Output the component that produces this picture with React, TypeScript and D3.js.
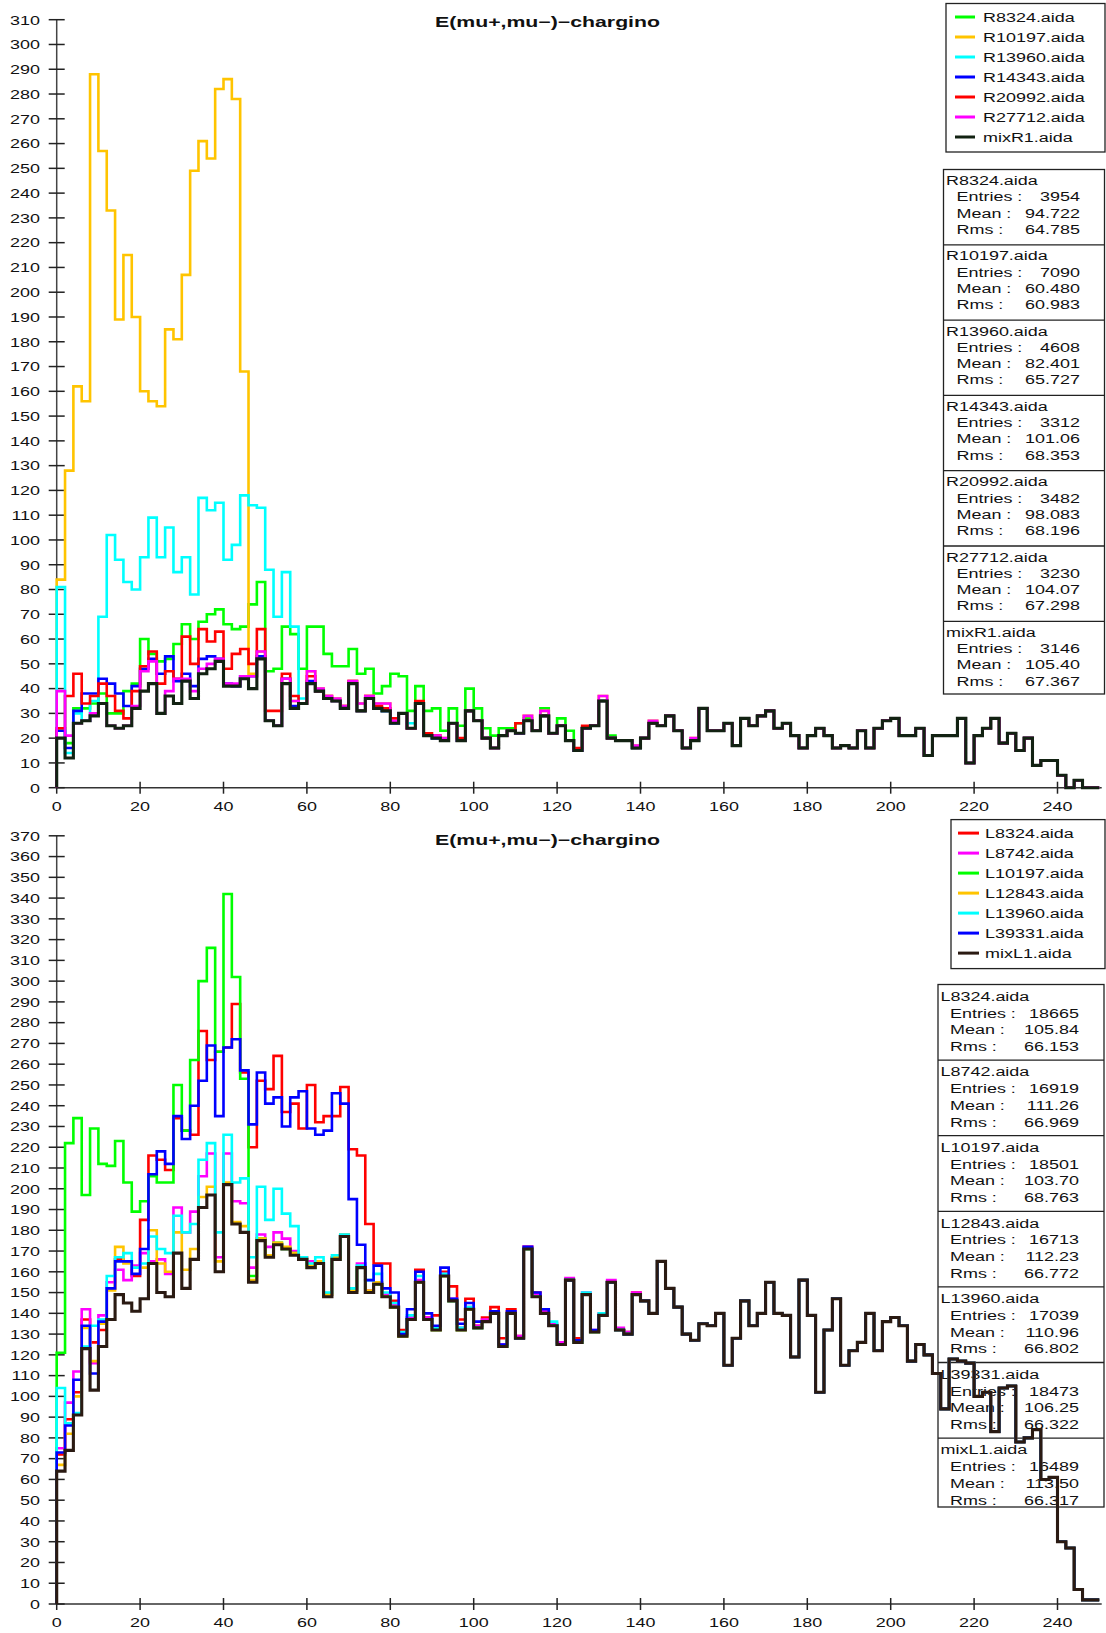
import React from 'react';
import * as d3 from 'd3';

// ---------------- DATA ----------------
const BIN_WIDTH = 2;
const X_TICKS = [0, 20, 40, 60, 80, 100, 120, 140, 160, 180, 200, 220, 240];
const TOP_Y_TICKS = d3.range(0, 311, 10);
const BOTTOM_Y_TICKS = d3.range(0, 371, 10);
const TITLE = 'E(mu+,mu\u2212)\u2212chargino';

// Top chart series
const R8324 = [
  24, 18, 32, 32, 34, 38, 30, 30, 39, 42,
  60, 54, 51, 52, 58, 66, 60, 67, 70, 72,
  66, 64, 65, 74, 83, 47, 48, 65, 62, 48,
  65, 65, 54, 49, 49, 56, 46, 48, 38, 41,
  46, 45, 31, 41, 31, 32, 23, 32, 25, 40,
  32, 24, 21, 24, 24, 26, 28, 23, 32, 22,
  28, 23, 15, 24, 25, 35, 21, 19, 19, 16,
  20, 26, 25, 29, 23, 16, 19, 32, 23, 23,
  26, 17, 28, 25, 29, 31, 24, 26, 21, 16,
  21, 24, 21, 16, 17, 16, 23, 16, 24, 27,
  28, 21, 21, 24, 13, 21, 21, 21, 28, 10,
  21, 24, 28, 18, 22, 15, 20, 9, 11, 11,
  5, 0, 3, 0, 0,
];
const R10197 = [
  84, 128, 162, 156, 288, 257, 233, 189, 215, 190,
  160, 156, 154, 185, 181, 207, 249, 261, 254, 282,
  286, 278, 168, 46, 55, 27, 25, 44, 35, 34,
  47, 40, 37, 36, 33, 43, 34, 37, 34, 34,
  27, 30, 24, 34, 21, 21, 20, 26, 19, 31,
  27, 20, 16, 21, 23, 22, 29, 23, 31, 22,
  25, 19, 15, 24, 25, 37, 20, 19, 19, 17,
  20, 27, 25, 29, 23, 16, 20, 32, 23, 23,
  26, 17, 28, 25, 29, 31, 24, 26, 21, 16,
  21, 24, 21, 16, 17, 16, 23, 16, 24, 27,
  28, 21, 21, 24, 13, 21, 21, 21, 28, 10,
  21, 24, 28, 18, 22, 15, 20, 9, 11, 11,
  5, 0, 3, 0, 0,
];
const R13960 = [
  81, 14, 30, 27, 35, 69, 102, 92, 83, 80,
  93, 109, 93, 105, 87, 93, 78, 117, 112, 115,
  92, 98, 118, 114, 113, 88, 69, 87, 65, 36,
  42, 39, 36, 35, 32, 42, 31, 36, 32, 31,
  26, 30, 26, 34, 21, 20, 19, 26, 19, 31,
  27, 20, 16, 21, 23, 22, 27, 23, 29, 22,
  25, 19, 15, 24, 25, 35, 20, 19, 19, 16,
  20, 26, 25, 29, 23, 16, 19, 32, 23, 23,
  26, 17, 28, 25, 29, 31, 24, 26, 21, 16,
  21, 24, 21, 16, 17, 16, 23, 16, 24, 27,
  28, 21, 21, 24, 13, 21, 21, 21, 28, 10,
  21, 24, 28, 18, 22, 15, 20, 9, 11, 11,
  5, 0, 3, 0, 0,
];
const R14343 = [
  23, 16, 31, 38, 38, 44, 42, 38, 33, 41,
  48, 52, 46, 53, 43, 46, 41, 52, 53, 52,
  42, 41, 45, 45, 53, 27, 25, 44, 33, 34,
  43, 39, 36, 35, 32, 42, 31, 36, 32, 31,
  26, 30, 24, 34, 21, 20, 19, 26, 19, 31,
  27, 20, 16, 21, 23, 22, 27, 23, 29, 22,
  25, 19, 15, 24, 25, 35, 20, 19, 19, 16,
  20, 26, 25, 29, 23, 16, 19, 32, 23, 23,
  26, 17, 28, 25, 29, 31, 24, 26, 21, 16,
  21, 24, 21, 16, 17, 16, 23, 16, 24, 27,
  28, 21, 21, 24, 13, 21, 21, 21, 28, 10,
  21, 24, 28, 18, 22, 15, 20, 9, 11, 11,
  5, 0, 3, 0, 0,
];
const R20992 = [
  24, 37, 46, 34, 37, 42, 37, 31, 28, 39,
  49, 55, 42, 47, 44, 61, 50, 64, 59, 63,
  48, 54, 56, 50, 64, 31, 31, 46, 37, 34,
  45, 39, 37, 35, 33, 43, 31, 37, 33, 32,
  28, 30, 24, 35, 22, 21, 19, 26, 20, 31,
  27, 20, 16, 21, 23, 26, 27, 23, 29, 22,
  25, 19, 16, 25, 25, 35, 20, 19, 19, 16,
  20, 26, 25, 29, 23, 16, 19, 32, 23, 23,
  26, 17, 28, 25, 29, 31, 24, 26, 21, 16,
  21, 24, 21, 16, 17, 16, 23, 16, 24, 27,
  28, 21, 21, 24, 13, 21, 21, 21, 28, 10,
  21, 24, 28, 18, 22, 15, 20, 9, 11, 11,
  5, 0, 3, 0, 0,
];
const R27712 = [
  39, 21, 26, 27, 30, 34, 25, 24, 25, 33,
  47, 51, 30, 39, 44, 44, 39, 48, 50, 52,
  42, 42, 45, 45, 55, 27, 25, 44, 35, 34,
  47, 40, 37, 36, 33, 43, 34, 37, 34, 34,
  27, 30, 24, 34, 21, 21, 20, 26, 19, 31,
  27, 20, 16, 21, 23, 22, 29, 23, 31, 22,
  25, 19, 15, 24, 25, 37, 20, 19, 19, 17,
  20, 27, 25, 29, 23, 16, 20, 32, 23, 23,
  26, 17, 28, 25, 29, 31, 24, 26, 21, 16,
  21, 24, 21, 16, 17, 16, 23, 16, 24, 27,
  28, 21, 21, 24, 13, 21, 21, 21, 28, 10,
  21, 24, 28, 18, 22, 15, 20, 9, 11, 11,
  5, 0, 3, 0, 0,
];
const MIX_R1 = [
  20, 12, 26, 27, 29, 34, 25, 24, 25, 32,
  39, 42, 30, 37, 34, 43, 36, 46, 48, 51,
  41, 41, 44, 40, 52, 27, 25, 42, 32, 34,
  42, 39, 36, 35, 32, 42, 31, 36, 32, 31,
  26, 30, 24, 34, 21, 20, 19, 26, 19, 31,
  27, 20, 16, 21, 23, 22, 27, 23, 29, 22,
  25, 19, 15, 24, 25, 35, 20, 19, 19, 16,
  20, 26, 25, 29, 23, 16, 19, 32, 23, 23,
  26, 17, 28, 25, 29, 31, 24, 26, 21, 16,
  21, 24, 21, 16, 17, 16, 23, 16, 24, 27,
  28, 21, 21, 24, 13, 21, 21, 21, 28, 10,
  21, 24, 28, 18, 22, 15, 20, 9, 11, 11,
  5, 0, 3, 0, 0,
];

// Bottom chart series
const L8324 = [
  72, 89, 102, 137, 126, 132, 152, 166, 165, 158,
  185, 216, 214, 209, 234, 228, 226, 276, 262, 266,
  268, 289, 256, 220, 252, 248, 264, 237, 241, 229,
  250, 232, 235, 235, 249, 219, 216, 183, 164, 164,
  146, 132, 138, 161, 138, 139, 160, 153, 137, 147,
  134, 138, 143, 128, 142, 129, 172, 150, 141, 134,
  126, 156, 128, 149, 131, 139, 155, 132, 131, 150,
  146, 140, 165, 152, 143, 130, 127, 135, 134, 140,
  115, 128, 146, 134, 140, 155, 140, 139, 119, 156,
  139, 102, 132, 147, 115, 122, 126, 140, 122, 136,
  138, 134, 117, 125, 120, 111, 94, 118, 117, 116,
  100, 102, 83, 104, 105, 78, 80, 84, 60, 61,
  30, 27, 7, 2, 2,
];
const L8742 = [
  75, 97, 112, 142, 116, 139, 155, 161, 156, 163,
  169, 165, 166, 159, 191, 179, 189, 206, 217, 167,
  217, 194, 193, 162, 178, 172, 179, 176, 170, 167,
  165, 165, 149, 167, 178, 151, 164, 151, 155, 149,
  144, 130, 138, 156, 138, 133, 159, 147, 133, 143,
  134, 137, 141, 125, 141, 129, 172, 149, 141, 135,
  126, 157, 127, 150, 132, 140, 156, 133, 131, 150,
  146, 140, 165, 152, 143, 130, 127, 135, 134, 140,
  115, 128, 146, 134, 140, 155, 140, 139, 119, 156,
  139, 102, 132, 147, 115, 122, 126, 140, 122, 136,
  138, 134, 117, 125, 120, 111, 94, 118, 117, 116,
  100, 102, 83, 104, 105, 78, 80, 84, 60, 61,
  30, 27, 7, 2, 2,
];
const L10197 = [
  121, 222, 234, 197, 229, 212, 211, 223, 203, 189,
  194, 206, 203, 203, 250, 228, 262, 300, 316, 266,
  342, 302, 253, 158, 176, 168, 174, 171, 169, 166,
  162, 164, 149, 166, 177, 151, 162, 150, 154, 148,
  143, 129, 137, 155, 137, 132, 158, 146, 132, 142,
  133, 136, 140, 124, 140, 128, 171, 148, 140, 134,
  125, 156, 126, 149, 131, 139, 155, 132, 130, 149,
  146, 140, 165, 152, 143, 130, 127, 135, 134, 140,
  115, 128, 146, 134, 140, 155, 140, 139, 119, 156,
  139, 102, 132, 147, 115, 122, 126, 140, 122, 136,
  138, 134, 117, 125, 120, 111, 94, 118, 117, 116,
  100, 102, 83, 104, 105, 78, 80, 84, 60, 61,
  30, 27, 7, 2, 2,
];
const L12843 = [
  67, 82, 100, 133, 117, 135, 151, 172, 164, 162,
  162, 180, 164, 160, 179, 161, 171, 196, 201, 165,
  203, 184, 182, 156, 176, 168, 174, 172, 169, 167,
  163, 165, 149, 167, 178, 151, 162, 151, 155, 148,
  143, 129, 137, 155, 137, 132, 158, 146, 132, 142,
  133, 136, 140, 124, 140, 128, 171, 148, 140, 134,
  125, 156, 126, 149, 131, 139, 155, 132, 130, 149,
  146, 140, 165, 152, 143, 130, 127, 135, 134, 140,
  115, 128, 146, 134, 140, 155, 140, 139, 119, 156,
  139, 102, 132, 147, 115, 122, 126, 140, 122, 136,
  138, 134, 117, 125, 120, 111, 94, 118, 117, 116,
  100, 102, 83, 104, 105, 78, 80, 84, 60, 61,
  30, 27, 7, 2, 2,
];
const L13960 = [
  104, 87, 92, 124, 134, 137, 158, 167, 169, 162,
  164, 177, 171, 169, 187, 179, 183, 214, 222, 179,
  226, 203, 205, 167, 201, 185, 200, 188, 182, 167,
  164, 167, 150, 168, 178, 152, 163, 156, 159, 150,
  145, 131, 139, 158, 137, 133, 159, 146, 133, 143,
  133, 136, 140, 124, 140, 128, 171, 148, 140, 136,
  125, 156, 126, 150, 131, 140, 155, 132, 130, 149,
  146, 140, 165, 152, 143, 130, 127, 135, 134, 140,
  115, 128, 146, 134, 140, 155, 140, 139, 119, 156,
  139, 102, 132, 147, 115, 122, 126, 140, 122, 136,
  138, 134, 117, 125, 120, 111, 94, 118, 117, 116,
  100, 102, 83, 104, 105, 78, 80, 84, 60, 61,
  30, 27, 7, 2, 2,
];
const L39331 = [
  73, 86, 108, 134, 111, 136, 152, 165, 165, 159,
  171, 207, 218, 212, 235, 224, 240, 252, 269, 235,
  268, 272, 257, 231, 256, 241, 244, 230, 244, 247,
  229, 226, 228, 246, 241, 195, 173, 156, 163, 152,
  150, 130, 142, 160, 140, 134, 162, 147, 135, 145,
  136, 136, 141, 125, 141, 128, 172, 150, 142, 134,
  125, 156, 127, 149, 132, 139, 155, 132, 130, 149,
  146, 140, 165, 152, 143, 130, 127, 135, 134, 140,
  115, 128, 146, 134, 140, 155, 140, 139, 119, 156,
  139, 102, 132, 147, 115, 122, 126, 140, 122, 136,
  138, 134, 117, 125, 120, 111, 94, 118, 117, 116,
  100, 102, 83, 104, 105, 78, 80, 84, 60, 61,
  30, 27, 7, 2, 2,
];
const MIX_L1 = [
  64, 74, 91, 123, 103, 124, 137, 149, 145, 141,
  147, 164, 150, 148, 169, 152, 166, 191, 197, 160,
  202, 183, 179, 155, 175, 167, 173, 171, 168, 166,
  162, 164, 148, 166, 177, 150, 162, 150, 154, 148,
  143, 129, 137, 155, 137, 132, 158, 146, 132, 142,
  133, 136, 140, 124, 140, 128, 171, 148, 140, 134,
  125, 156, 126, 149, 131, 139, 155, 132, 130, 149,
  146, 140, 165, 152, 143, 130, 127, 135, 134, 140,
  115, 128, 146, 134, 140, 155, 140, 139, 119, 156,
  139, 102, 132, 147, 115, 122, 126, 140, 122, 136,
  138, 134, 117, 125, 120, 111, 94, 118, 117, 116,
  100, 102, 83, 104, 105, 78, 80, 84, 60, 61,
  30, 27, 7, 2, 2,
];

const TOP_NAMES = ['R8324.aida', 'R10197.aida', 'R13960.aida', 'R14343.aida', 'R20992.aida', 'R27712.aida', 'mixR1.aida'];
const TOP_COLORS = ['#00ff00', '#ffc400', '#00ffff', '#0000ff', '#ff0000', '#ff00ff', '#122212'];
const TOP_VALUES = [R8324, R10197, R13960, R14343, R20992, R27712, MIX_R1];
const TOP_ENTRIES = ['3954', '7090', '4608', '3312', '3482', '3230', '3146'];
const TOP_MEANS = ['94.722', '60.480', '82.401', '101.06', '98.083', '104.07', '105.40'];
const TOP_RMS = ['64.785', '60.983', '65.727', '68.353', '68.196', '67.298', '67.367'];

const BOTTOM_NAMES = ['L8324.aida', 'L8742.aida', 'L10197.aida', 'L12843.aida', 'L13960.aida', 'L39331.aida', 'mixL1.aida'];
const BOTTOM_COLORS = ['#ff0000', '#ff00ff', '#00ff00', '#ffc400', '#00ffff', '#0000ff', '#2a1a12'];
const BOTTOM_VALUES = [L8324, L8742, L10197, L12843, L13960, L39331, MIX_L1];
const BOTTOM_ENTRIES = ['18665', '16919', '18501', '16713', '17039', '18473', '16489'];
const BOTTOM_MEANS = ['105.84', '111.26', '103.70', '112.23', '110.96', '106.25', '113.50'];
const BOTTOM_RMS = ['66.153', '66.969', '68.763', '66.772', '66.802', '66.322', '66.317'];

// ---------------- DRAWING ----------------
const FONT = "'Liberation Sans', Arial, Helvetica, sans-serif";
const SX = 1.33;
const FS = 13.5;

function Label({ x, y, anchor = 'start', size = FS, children }: any) {
  return (
    <text
      transform={`translate(${x},${y}) scale(${SX},1)`}
      textAnchor={anchor}
      fontSize={size}
      fontFamily={FONT}
      fill="#111"
    >
      {children}
    </text>
  );
}

function histPath(values: number[], x: any, y: any) {
  const pts: [number, number][] = [[0, 0]];
  values.forEach((v, i) => pts.push([i * BIN_WIDTH, v]));
  pts.push([values.length * BIN_WIDTH, values[values.length - 1]]);
  return d3
    .line<[number, number]>()
    .x((d) => x(d[0]))
    .y((d) => y(d[1]))
    .curve(d3.curveStepAfter)(pts) as string;
}

const xScale = d3.scaleLinear().domain([0, 250]).range([56.7, 1099.2]);

function Chart({
  yMax, y0, yTop, yTicks, titleY, names, colors, values, entries, means, rms,
  legend, stats,
}: any) {
  const y = d3.scaleLinear().domain([0, yMax]).range([y0, yTop]);
  const x0 = xScale(0);
  const off = stats.offsets;
  return (
    <g>
      {/* stats box */}
      <rect x={stats.x} y={stats.y} width={stats.w} height={stats.h} fill="#fff" stroke="#222" strokeWidth={1.3} />
      {names.map((n: string, i: number) => {
        const top = stats.y + i * stats.step;
        return (
          <g key={n}>
            {i > 0 && <line x1={stats.x} x2={stats.x + stats.w} y1={top} y2={top} stroke="#222" strokeWidth={1.3} />}
            <Label x={stats.x + 2.5} y={top + off[0]}>{n}</Label>
            <Label x={stats.labelX} y={top + off[1]}>Entries :</Label>
            <Label x={stats.valueX} y={top + off[1]} anchor="end">{entries[i]}</Label>
            <Label x={stats.labelX} y={top + off[2]}>Mean :</Label>
            <Label x={stats.valueX} y={top + off[2]} anchor="end">{means[i]}</Label>
            <Label x={stats.labelX} y={top + off[3]}>Rms :</Label>
            <Label x={stats.valueX} y={top + off[3]} anchor="end">{rms[i]}</Label>
          </g>
        );
      })}

      {/* legend box */}
      <rect x={legend.x} y={legend.y} width={legend.w} height={legend.h} fill="#fff" stroke="#222" strokeWidth={1.3} />
      {names.map((n: string, i: number) => {
        const cy = legend.y + 13.5 + i * 20;
        return (
          <g key={n}>
            <line x1={legend.lx1} x2={legend.lx2} y1={cy} y2={cy} stroke={colors[i]} strokeWidth={3} />
            <Label x={legend.tx} y={cy + 4.8}>{n}</Label>
          </g>
        );
      })}

      {/* title */}
      <text x={435} y={titleY} textLength={225} lengthAdjust="spacingAndGlyphs" fontSize={14.5}
        fontWeight="bold" fontFamily={FONT} fill="#111">{TITLE}</text>

      {/* axes */}
      <line x1={x0} x2={x0} y1={y(0)} y2={y(yMax)} stroke="#444" strokeWidth={1.5} />
      <line x1={x0} x2={xScale(250) + 2.5} y1={y(0)} y2={y(0)} stroke="#333" strokeWidth={1.5} />
      {yTicks.map((t: number) => (
        <g key={'y' + t}>
          <line x1={x0 - 8} x2={x0 + 8} y1={y(t)} y2={y(t)} stroke="#222" strokeWidth={1.5} />
          <Label x={40} y={y(t) + 4.8} anchor="end">{t}</Label>
        </g>
      ))}
      {X_TICKS.map((t: number) => (
        <g key={'x' + t}>
          <line x1={xScale(t)} x2={xScale(t)} y1={y(0) - 6} y2={y(0) + 6} stroke="#222" strokeWidth={1.5} />
          <Label x={xScale(t)} y={y(0) + 23.3} anchor="middle">{t}</Label>
        </g>
      ))}

      {/* histograms */}
      {values.map((vals: number[], i: number) => (
        <path key={names[i]} d={histPath(vals, xScale, y)} fill="none" stroke={colors[i]}
          strokeWidth={i === values.length - 1 ? 3.1 : 2.6} strokeLinejoin="miter" />
      ))}
    </g>
  );
}

export default function App() {
  return (
    <div style={{ position: 'absolute', left: 0, top: 0, background: '#fff' }}>
      <svg width={1106} height={1633} viewBox="0 0 1106 1633" style={{ display: 'block', background: '#fff' }}>
        <Chart
          yMax={310} y0={787.7} yTop={19.7} yTicks={TOP_Y_TICKS} titleY={27.2}
          names={TOP_NAMES} colors={TOP_COLORS} values={TOP_VALUES}
          entries={TOP_ENTRIES} means={TOP_MEANS} rms={TOP_RMS}
          legend={{ x: 946, y: 3.5, w: 159, h: 148.5, lx1: 955, lx2: 975, tx: 983 }}
          stats={{ x: 943.5, y: 169.5, w: 161, h: 524.5, step: 75.3, labelX: 956.5, valueX: 1080,
            offsets: [15.6, 31.8, 48.0, 64.2] }}
        />
        <Chart
          yMax={370} y0={1604} yTop={835.8} yTicks={BOTTOM_Y_TICKS} titleY={844.5}
          names={BOTTOM_NAMES} colors={BOTTOM_COLORS} values={BOTTOM_VALUES}
          entries={BOTTOM_ENTRIES} means={BOTTOM_MEANS} rms={BOTTOM_RMS}
          legend={{ x: 951, y: 819.6, w: 154, h: 149, lx1: 958, lx2: 979, tx: 985 }}
          stats={{ x: 938, y: 984.5, w: 166, h: 522.5, step: 75.6, labelX: 950, valueX: 1079,
            offsets: [16.3, 33.0, 49.7, 66.4] }}
        />
      </svg>
    </div>
  );
}
